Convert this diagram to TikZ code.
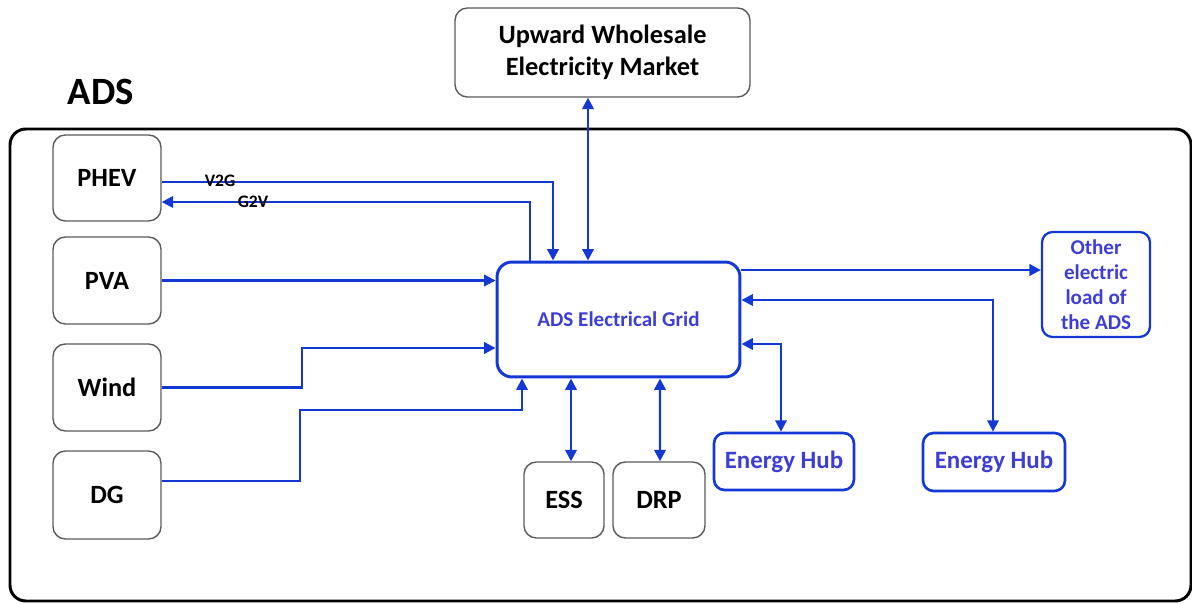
\documentclass[tikz,border=0pt]{standalone}
\usepackage{fontspec}
\setmainfont{Carlito}
\usetikzlibrary{arrows.meta,calc}
\definecolor{lineblue}{RGB}{20,56,212}
\definecolor{textblue}{RGB}{62,62,214}
\definecolor{boxgray}{RGB}{90,90,90}
\tikzset{
  blackbox/.style={draw=boxgray,line width=0.8pt,rounded corners=7pt,align=center,
    font=\bfseries\fontsize{15}{18}\selectfont,inner sep=0pt},
  bluebox/.style={draw=lineblue,line width=1.5pt,rounded corners=6pt,align=center,
    text=textblue,inner sep=0pt},
  flow/.style={draw=lineblue,line width=1.35pt,-{Triangle[length=6.5pt,width=6.5pt]}},
  flowtwo/.style={draw=lineblue,line width=1.35pt,{Triangle[length=6.5pt,width=6.5pt]}-{Triangle[length=6.5pt,width=6.5pt]}},
  flowlabel/.style={font=\bfseries\fontsize{10}{12}\selectfont,inner sep=0pt}
}
\begin{document}
\begin{tikzpicture}[x=0.02cm,y=-0.02cm]
\useasboundingbox (0,0) rectangle (1192,604);
% outer frame
\draw[line width=1.7pt,rounded corners=9pt] (10,129) rectangle (1191,601);
\node[font=\bfseries\fontsize{22}{26}\selectfont,inner sep=0pt] (ads) at (101,92) {ADS};
% nodes
\node[blackbox,minimum width=5.9cm,minimum height=1.78cm] (market) at (602.5,52.5) {Upward Wholesale\\Electricity Market};
\node[blackbox,minimum width=2.16cm,minimum height=1.72cm] (phev) at (107,178) {PHEV};
\node[blackbox,minimum width=2.16cm,minimum height=1.74cm] (pva) at (107,280.5) {PVA};
\node[blackbox,minimum width=2.16cm,minimum height=1.74cm] (wind) at (107,387.5) {Wind};
\node[blackbox,minimum width=2.16cm,minimum height=1.76cm] (dg) at (107,495) {DG};
\node[blackbox,minimum width=1.6cm,minimum height=1.52cm] (ess) at (564,500) {ESS};
\node[blackbox,minimum width=1.84cm,minimum height=1.52cm] (drp) at (659,500) {DRP};
\node[bluebox,line width=1.7pt,rounded corners=8.5pt,minimum width=4.86cm,minimum height=2.3cm,
  font=\bfseries\fontsize{12}{14}\selectfont] (grid) at (618.5,319.5) {ADS Electrical Grid};
\node[bluebox,minimum width=2.8cm,minimum height=1.14cm,font=\bfseries\fontsize{14.2}{16}\selectfont] (hub1) at (784,461.5) {Energy Hub};
\node[bluebox,minimum width=2.84cm,minimum height=1.16cm,font=\bfseries\fontsize{14.2}{16}\selectfont] (hub2) at (994,462) {Energy Hub};
\node[bluebox,line width=1.3pt,minimum width=2.16cm,minimum height=2.1cm,font=\bfseries\fontsize{12}{14.2}\selectfont] (other) at (1096,284.5) {Other\\electric\\load of\\the ADS};
% connectors
\draw[flow] ($(phev.east)+(0,4)$) -| ($(grid.north)+(-65.5,0)$);
\node[flowlabel] (v2g) at (220,181) {V2G};
\draw[flow] ($(grid.north)+(-88.5,0)$) |- ($(phev.east)+(0,24)$);
\node[flowlabel] (g2v) at (253,202) {G2V};
\draw[flowtwo] ($(market.south)+(-14.5,0)$) -- ($(grid.north)+(-30.5,0)$);
\draw[flow] (pva.east) -- (pva.east -| grid.west);
\draw[flow] (wind.east) -- ++(140,0) |- ($(grid.west)+(0,28.5)$);
\draw[flow] ($(dg.east)+(0,-14)$) -- ++(138,0) -- ++(0,-71) -| ($(grid.south)+(-96.5,0)$);
\draw[flowtwo] ($(ess.north)+(7,0)$) -- ($(grid.south)+(-47.5,0)$);
\draw[flowtwo] ($(drp.north)+(1,0)$) -- ($(grid.south)+(41.5,0)$);
\draw[flow] ($(grid.east)+(0,-49.5)$) -- ($(other.west)+(0,-14.5)$);
\draw[flowtwo] ($(grid.east)+(0,-19.5)$) -| ($(hub2.north)+(-1,0)$);
\draw[flowtwo] ($(grid.east)+(0,24.5)$) -| ($(hub1.north)+(-3,0)$);
\end{tikzpicture}
\end{document}
